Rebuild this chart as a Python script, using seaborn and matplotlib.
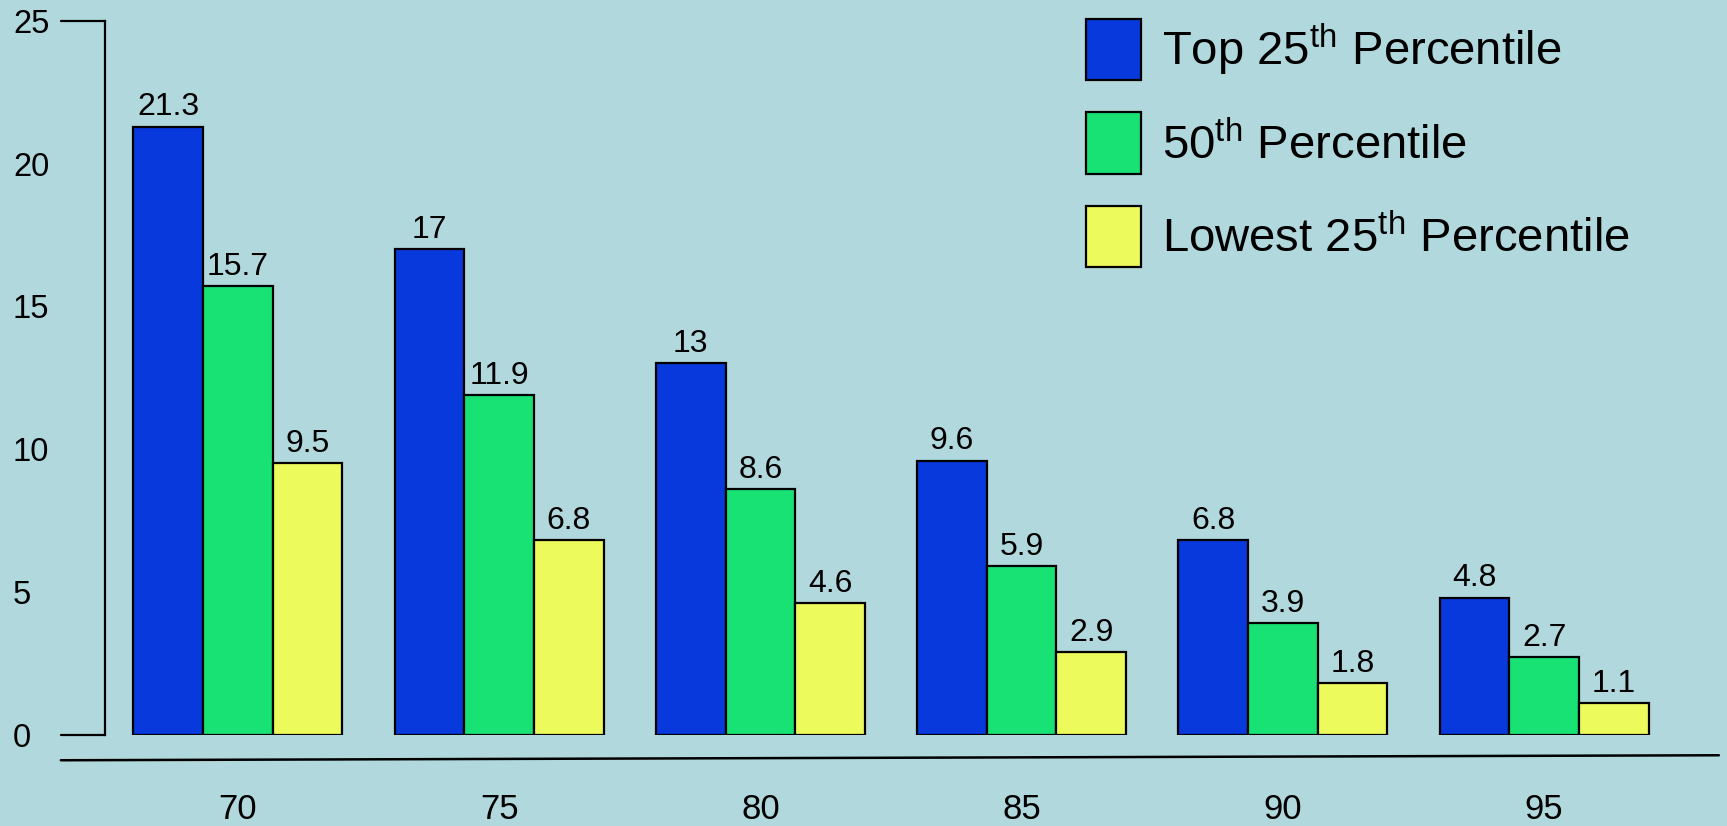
import seaborn as sns
import matplotlib.pyplot as plt
import matplotlib.transforms as mtransforms
import pandas as pd

# Data
ages = ['70', '75', '80', '85', '90', '95']
top25 = [21.3, 17, 13, 9.6, 6.8, 4.8]
pct50 = [15.7, 11.9, 8.6, 5.9, 3.9, 2.7]
low25 = [9.5, 6.8, 4.6, 2.9, 1.8, 1.1]
series = ['Top 25$^{\\mathrm{th}}$ Percentile',
          '50$^{\\mathrm{th}}$ Percentile',
          'Lowest 25$^{\\mathrm{th}}$ Percentile']
yticks = [0, 5, 10, 15, 20, 25]

df = pd.DataFrame({
    'age': ages * 3,
    'value': top25 + pct50 + low25,
    'group': [series[0]] * 6 + [series[1]] * 6 + [series[2]] * 6,
})

bg = '#b0d8dd'
colors = ['#0839dc', '#18e273', '#edfa5c']

sns.set_style('white')
plt.rcParams['font.family'] = ['Liberation Sans', 'DejaVu Sans']
plt.rcParams['mathtext.fontset'] = 'custom'
plt.rcParams['mathtext.rm'] = 'Liberation Sans'
plt.rcParams['text.color'] = 'black'
plt.rcParams['xtick.color'] = 'black'
plt.rcParams['ytick.color'] = 'black'
plt.rcParams['axes.labelcolor'] = 'black'

fig = plt.figure(figsize=(17.27, 8.26), dpi=100, facecolor=bg)
ax = fig.add_axes([0.0606, 0.1107, 0.9394, 0.864])
ax.set_facecolor(bg)

sns.barplot(data=df, x='age', y='value', hue='group', palette=colors,
            saturation=1, edgecolor='black', linewidth=1.6, width=0.8,
            ax=ax, legend=False)

for cont in ax.containers:
    ax.bar_label(cont, fmt='%g', padding=3, fontsize=23, color='black')

ax.set_xlim(-0.51, 5.7)
ax.set_ylim(0, 25)
ax.set_xlabel('')
ax.set_ylabel('')

for s in ['top', 'right', 'bottom']:
    ax.spines[s].set_visible(False)
ax.spines['left'].set_color('black')
ax.spines['left'].set_linewidth(1.6)

ax.set_yticks(yticks)
ax.set_yticklabels([str(t) for t in yticks], fontsize=23.5, ha='left')
ax.tick_params(axis='y', length=0, pad=66, labelcolor='black')
ax.tick_params(axis='x', length=0, pad=42, labelsize=25, labelcolor='black')

# long tick marks at 0 and 25
tr = mtransforms.blended_transform_factory(ax.transAxes, ax.transData)
for yv in [0, 25]:
    ax.plot([-0.027, 0], [yv, yv], color='black', lw=1.6, transform=tr, clip_on=False)

# separate floor line below the bars
ax.plot([-0.027, 0.995], [-0.036, -0.029], color='black', lw=1.8,
        transform=ax.transAxes, clip_on=False)

handles = [plt.Rectangle((0, 0), 1, 1, facecolor=c, edgecolor='black', lw=1.6) for c in colors]
fig.legend(handles, series, loc='upper left', bbox_to_anchor=(0.629, 0.977),
           frameon=False, fontsize=34, handlelength=1.16, handleheight=1.62,
           labelspacing=0.68, handletextpad=0.45, borderpad=0, borderaxespad=0)

fig.savefig('out.png', dpi=100, facecolor=bg)
